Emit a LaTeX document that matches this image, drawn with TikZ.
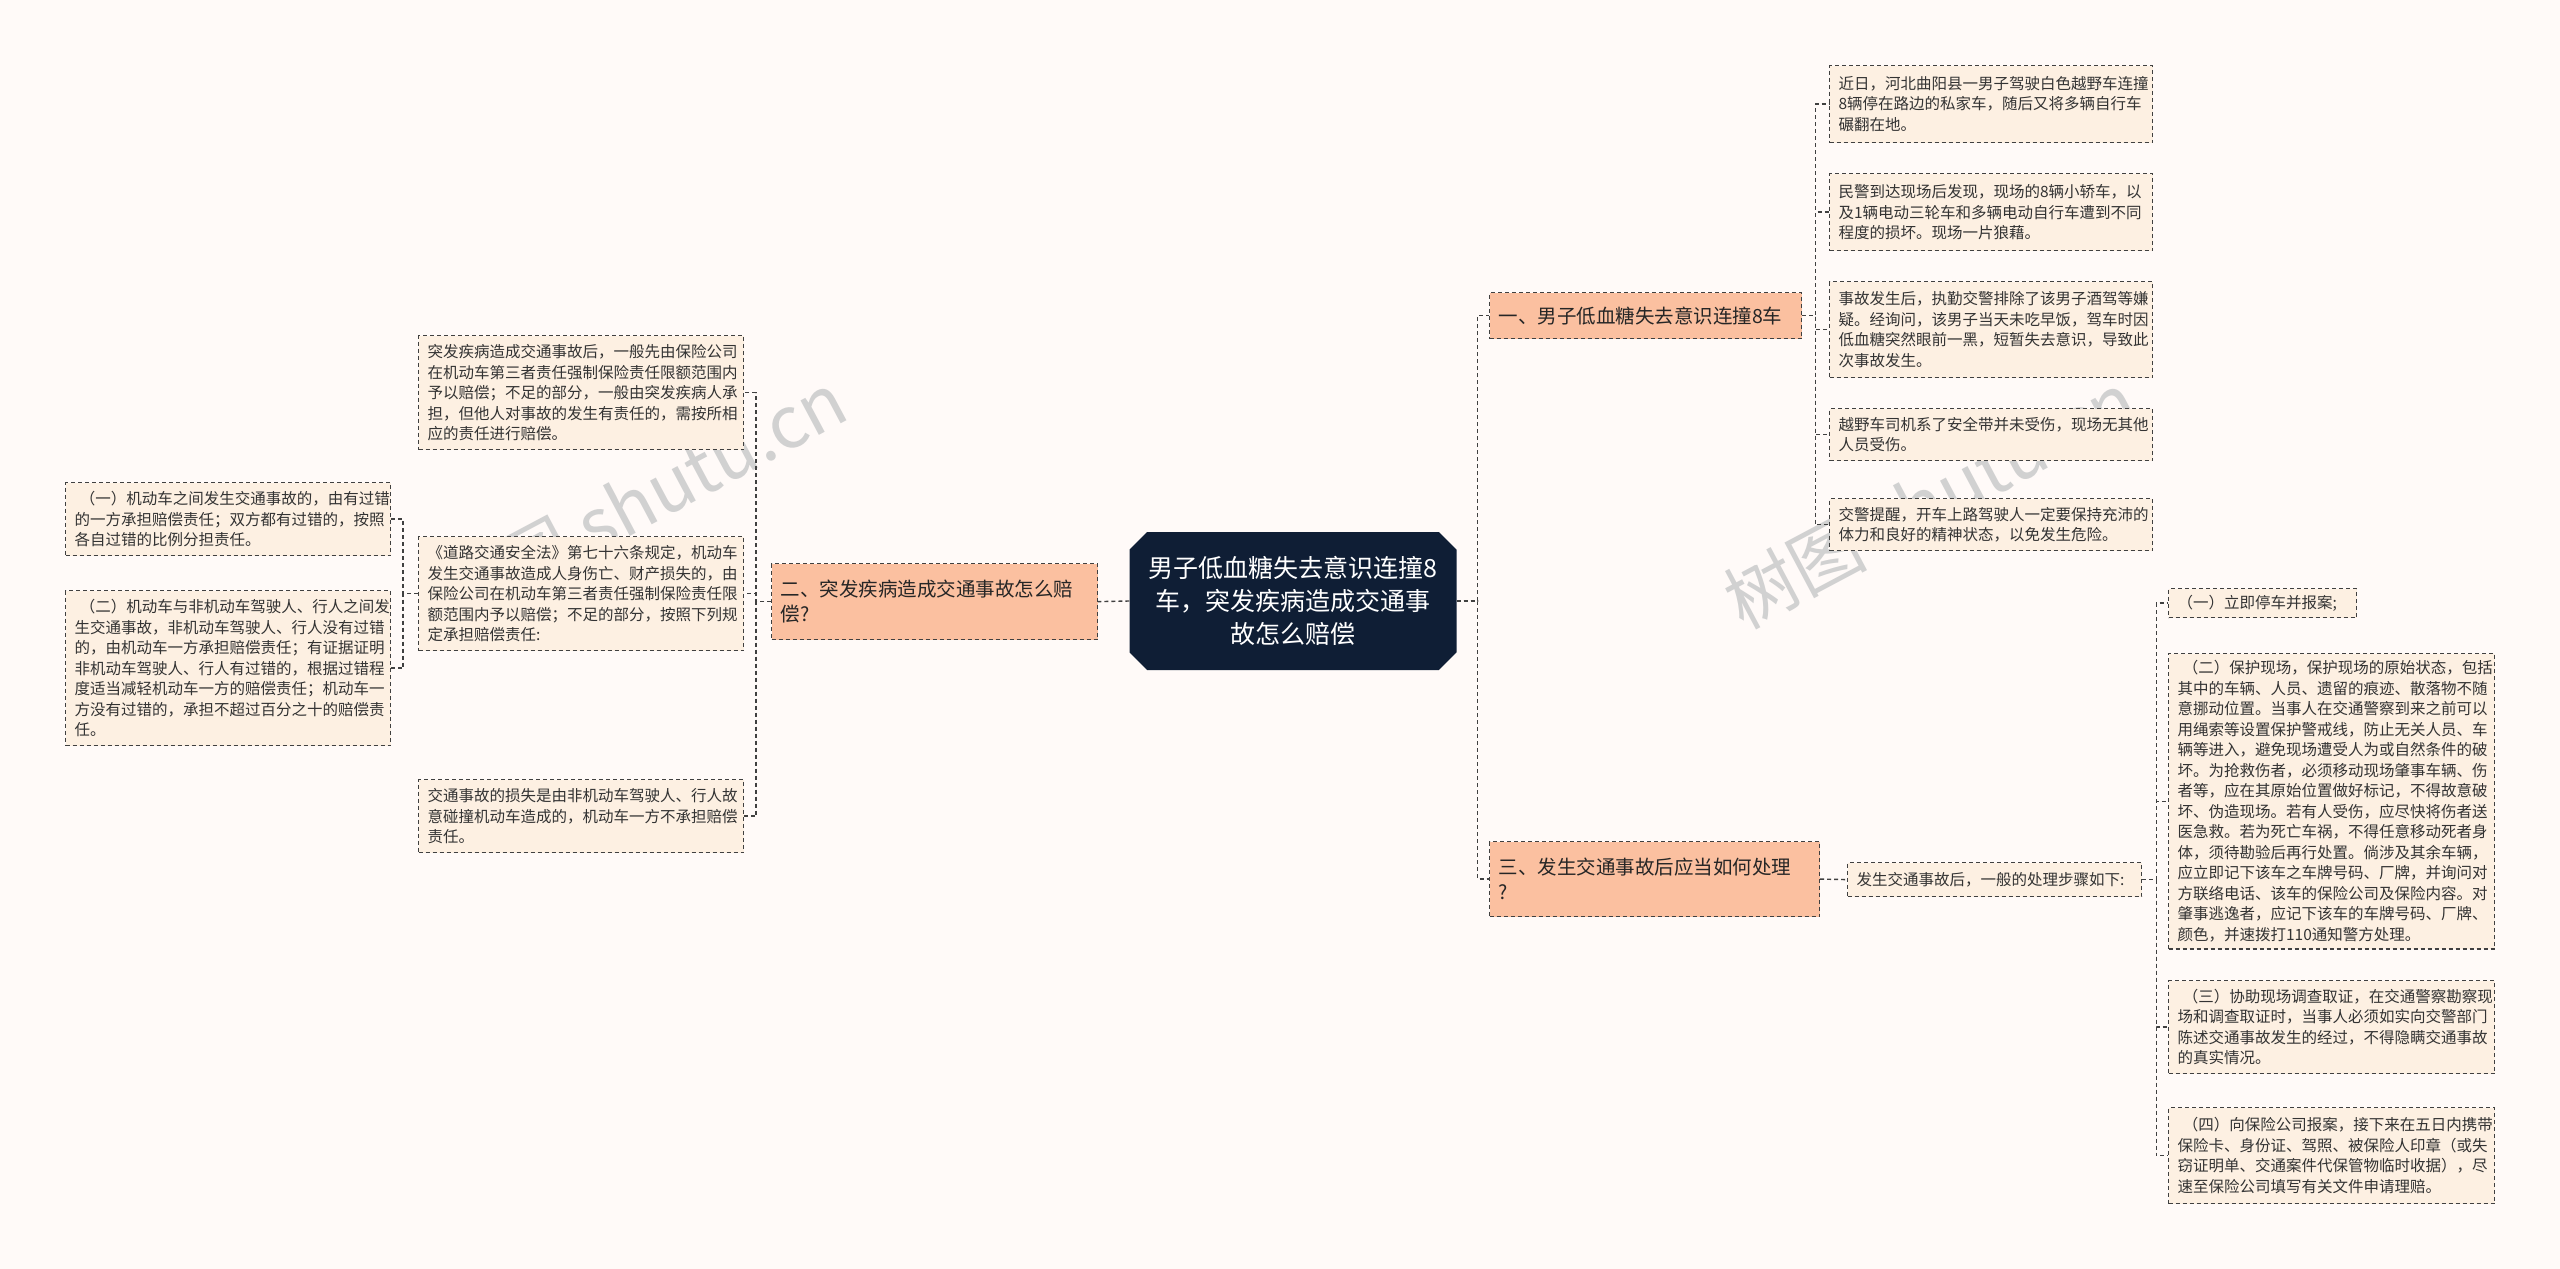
\documentclass[tikz,border=0pt]{standalone}
\usepackage{fontspec}
\setmainfont{Noto Sans CJK SC}
\usetikzlibrary{shapes.misc}
\definecolor{bgc}{HTML}{FFFAF8}
\definecolor{leafc}{HTML}{FDF0E2}
\definecolor{brc}{HTML}{FBC0A0}
\definecolor{cenc}{HTML}{0F1E35}
\begin{document}
\begin{tikzpicture}[x=1pt,y=-1pt,
 leaf/.style={draw=black!75,dashed,dash pattern=on 4pt off 3pt,line width=1.2pt,fill=leafc,font=\fontsize{15.5}{20.5}\selectfont,align=left,inner xsep=9pt,inner ysep=7pt,anchor=north west,text=black!80},
 br/.style={draw=black!75,dash pattern=on 4pt off 3pt,line width=1.2pt,fill=brc,font=\fontsize{19.5}{25}\selectfont,align=left,inner xsep=9pt,anchor=north west,text=black!85},
 con/.style={draw=black!75,dash pattern=on 4pt off 3pt,line width=1.4pt}]
\fill[bgc] (0,0) rectangle (2560,1269);
\useasboundingbox (0,0) rectangle (2560,1269);
% watermarks
\node[rotate=28,text=black!18,font=\fontsize{72}{72}\selectfont] (w1) at (640,500) {树图 shutu.cn};
\node[rotate=28,text=black!18,font=\fontsize{72}{72}\selectfont] (w2) at (1930,500) {树图 shutu.cn};
% center
\node[chamfered rectangle,chamfered rectangle xsep=14pt,fill=cenc,text=white,minimum width=327pt,minimum height=138pt,align=center,font=\fontsize{25}{33}\selectfont,inner sep=2pt] (c) at (1293,601) {男子低血糖失去意识连撞8\\车，突发疾病造成交通事\\故怎么赔偿};
% branches
\node[br,text width=294pt,minimum height=46pt] (b1) at (1489,292) {一、男子低血糖失去意识连撞8车};
\node[br,text width=308pt,minimum height=76pt] (b2) at (771,563) {二、突发疾病造成交通事故怎么赔\\偿?};
\node[br,text width=312pt,minimum height=75pt] (b3) at (1489,841) {三、发生交通事故后应当如何处理\\?};
% branch1 leaves
\node[leaf,text width=305pt,minimum height=77pt] (r1) at (1829,65) {近日，河北曲阳县一男子驾驶白色越野车连撞\\8辆停在路边的私家车，随后又将多辆自行车\\碾翻在地。};
\node[leaf,text width=305pt,minimum height=77pt] (r2) at (1829,173) {民警到达现场后发现，现场的8辆小轿车，以\\及1辆电动三轮车和多辆电动自行车遭到不同\\程度的损坏。现场一片狼藉。};
\node[leaf,text width=305pt,minimum height=96pt] (r3) at (1829,281) {事故发生后，执勤交警排除了该男子酒驾等嫌\\疑。经询问，该男子当天未吃早饭，驾车时因\\低血糖突然眼前一黑，短暂失去意识，导致此\\次事故发生。};
\node[leaf,text width=305pt,minimum height=52pt] (r4) at (1829,408) {越野车司机系了安全带并未受伤，现场无其他\\人员受伤。};
\node[leaf,text width=305pt,minimum height=52pt] (r5) at (1829,498) {交警提醒，开车上路驾驶人一定要保持充沛的\\体力和良好的精神状态，以免发生危险。};
% branch3
\node[leaf,text width=276pt,minimum height=34pt,inner ysep=4pt] (m) at (1847,862) {发生交通事故后，一般的处理步骤如下:};
\node[leaf,text width=170pt,minimum height=29pt,inner ysep=3pt] (s1) at (2168,588) {（一）立即停车并报案;};
\node[leaf,text width=308pt,minimum height=294pt] (s2) at (2168,653) {\ （二）保护现场，保护现场的原始状态，包括\\其中的车辆、人员、遗留的痕迹、散落物不随\\意挪动位置。当事人在交通警察到来之前可以\\用绳索等设置保护警戒线，防止无关人员、车\\辆等进入，避免现场遭受人为或自然条件的破\\坏。为抢救伤者，必须移动现场肇事车辆、伤\\者等，应在其原始位置做好标记，不得故意破\\坏、伪造现场。若有人受伤，应尽快将伤者送\\医急救。若为死亡车祸，不得任意移动死者身\\体，须待勘验后再行处置。倘涉及其余车辆，\\应立即记下该车之车牌号码、厂牌，并询问对\\方联络电话、该车的保险公司及保险内容。对\\肇事逃逸者，应记下该车的车牌号码、厂牌、\\颜色，并速拨打110通知警方处理。};
\node[leaf,text width=308pt,minimum height=93pt] (s3) at (2168,980) {\ （三）协助现场调查取证，在交通警察勘察现\\场和调查取证时，当事人必须如实向交警部门\\陈述交通事故发生的经过，不得隐瞒交通事故\\的真实情况。};
\node[leaf,text width=308pt,minimum height=96pt] (s4) at (2168,1107) {\ （四）向保险公司报案，接下来在五日内携带\\保险卡、身份证、驾照、被保险人印章（或失\\窃证明单、交通案件代保管物临时收据），尽\\速至保险公司填写有关文件申请理赔。};
% branch2
\node[leaf,text width=307pt,minimum height=114pt] (l1) at (418,335) {突发疾病造成交通事故后，一般先由保险公司\\在机动车第三者责任强制保险责任限额范围内\\予以赔偿；不足的部分，一般由突发疾病人承\\担，但他人对事故的发生有责任的，需按所相\\应的责任进行赔偿。};
\node[leaf,text width=307pt,minimum height=114pt] (l2) at (418,536) {《道路交通安全法》第七十六条规定，机动车\\发生交通事故造成人身伤亡、财产损失的，由\\保险公司在机动车第三者责任强制保险责任限\\额范围内予以赔偿；不足的部分，按照下列规\\定承担赔偿责任:};
\node[leaf,text width=307pt,minimum height=73pt] (l3) at (418,779) {交通事故的损失是由非机动车驾驶人、行人故\\意碰撞机动车造成的，机动车一方不承担赔偿\\责任。};
\node[leaf,text width=307pt,minimum height=73pt] (k1) at (65,482) {\ （一）机动车之间发生交通事故的，由有过错\\的一方承担赔偿责任；双方都有过错的，按照\\各自过错的比例分担责任。};
\node[leaf,text width=307pt,minimum height=155pt] (k2) at (65,590) {\ （二）机动车与非机动车驾驶人、行人之间发\\生交通事故，非机动车驾驶人、行人没有过错\\的，由机动车一方承担赔偿责任；有证据证明\\非机动车驾驶人、行人有过错的，根据过错程\\度适当减轻机动车一方的赔偿责任；机动车一\\方没有过错的，承担不超过百分之十的赔偿责\\任。};
% connectors
\draw[con] (c.east) -- ++(21,0) |- (b1.west);
\draw[con] (c.east) -- ++(21,0) |- (b3.west);
\draw[con] (c.west) -- (b2.east);
\foreach \n in {r1,r2,r3,r4,r5} \draw[con] (b1.east) -- ++(13,0) |- (\n.west);
\draw[con] (b3.east) -- (m.west);
\foreach \n in {s1,s2,s3,s4} \draw[con] (m.east) -- ++(14,0) |- (\n.west);
\foreach \n in {l1,l2,l3} \draw[con] (b2.west) -- ++(-15,0) |- (\n.east);
\foreach \n in {k1,k2} \draw[con] (l2.west) -- ++(-15,0) |- (\n.east);
\end{tikzpicture}
\end{document}
